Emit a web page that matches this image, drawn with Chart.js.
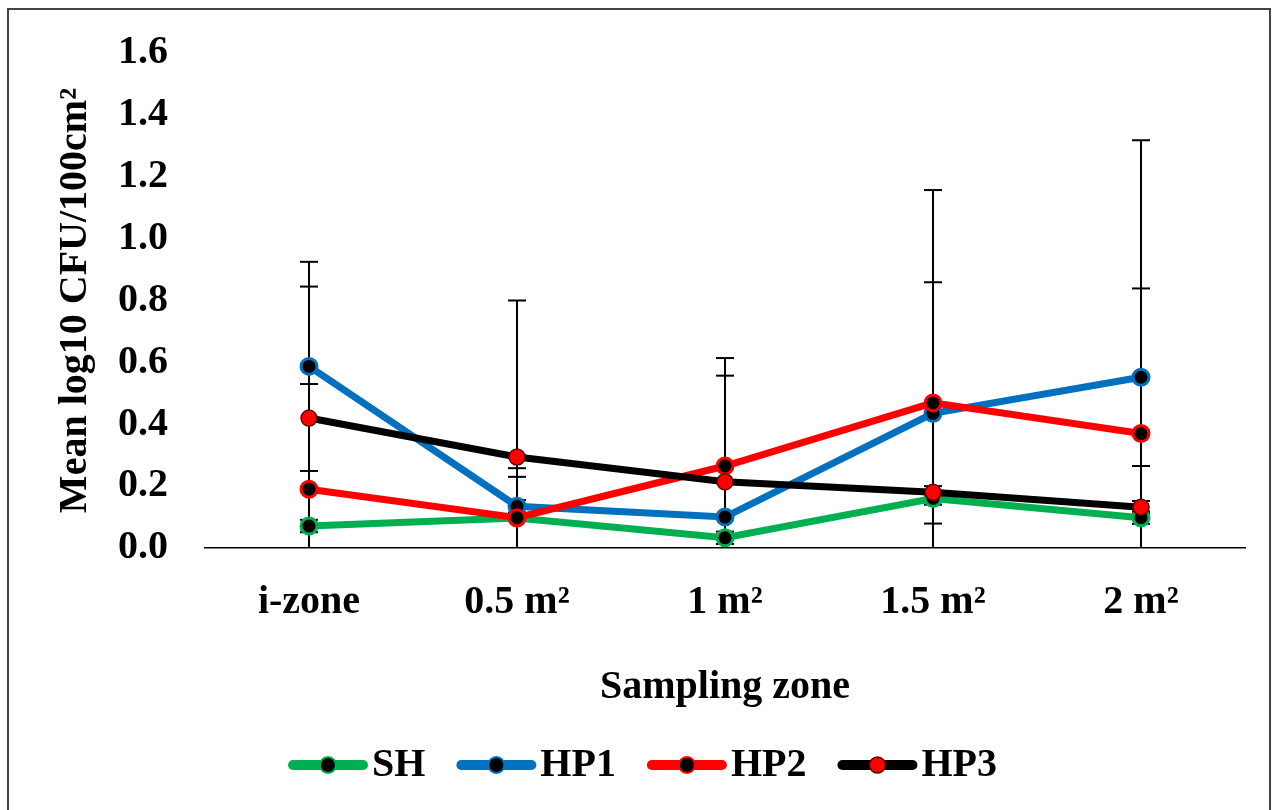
<!DOCTYPE html>
<html lang="en">
<head>
<meta charset="UTF-8">
<title>Sampling zone</title>
<script src="https://cdn.jsdelivr.net/npm/chart.js@4.4.1/dist/chart.umd.min.js"></script>
<style>
  html, body { margin: 0; padding: 0; background: #fff; overflow: hidden; }
  #wrap { width: 1277px; height: 810px; }
</style>
</head>
<body>
<div id="wrap"><canvas id="chart" width="1277" height="810"></canvas></div>
<script>
// categories on the x axis
var zones = ['i-zone', '0.5 m²', '1 m²', '1.5 m²', '2 m²'];

// mean values
var sh  = [0.071, 0.097, 0.033, 0.160, 0.098];
var hp1 = [0.587, 0.135, 0.100, 0.435, 0.552];
var hp2 = [0.190, 0.098, 0.265, 0.469, 0.370];
var hp3 = [0.420, 0.294, 0.214, 0.180, 0.132];

// error bar half lengths (+/-), estimated from the caps
var shErr  = [0.02, 0.133, 0.02, 0.02, 0.02];
var hp1Err = [0.338, 0.02, 0.11, 0.722, 0.287];
var hp2Err = [0.34, 0.16, 0.349, 0.39, 0.948];
var hp3Err = [0.425, 0.506, 0.343, 0.02, 0.02];

var yTicks = [0, 0.2, 0.4, 0.6, 0.8, 1.0, 1.2, 1.4, 1.6];

var FONT = "'Liberation Serif', 'Times New Roman', serif";

// error bars, drawn before the lines so the markers sit on top
var errorBars = {
    id: 'errorBars',
    beforeDatasetsDraw: function(chart) {
        var ctx = chart.ctx, y = chart.scales.y, x = chart.scales.x;
        var area = chart.chartArea;
        ctx.save();
        ctx.strokeStyle = '#000';
        ctx.lineWidth = 2;
        chart.data.datasets.forEach(function(ds) {
            ds.err.forEach(function(e, i) {
                var px = x.getPixelForValue(i);
                var hi = ds.data[i] + e, lo = ds.data[i] - e;
                var pHi = Math.max(y.getPixelForValue(hi), area.top);
                var pLo = Math.min(y.getPixelForValue(lo), area.bottom);
                ctx.beginPath(); ctx.moveTo(px, pHi); ctx.lineTo(px, pLo); ctx.stroke();
                var caps = [];
                if (hi <= y.max) caps.push(pHi);
                if (lo >= y.min) caps.push(pLo);
                caps.forEach(function(cy) {
                    ctx.beginPath(); ctx.moveTo(px - 9, cy); ctx.lineTo(px + 9, cy); ctx.stroke();
                });
            });
        });
        ctx.restore();
    }
};

// outer frame
var frame = {
    id: 'frame',
    beforeDraw: function(chart) {
        var ctx = chart.ctx;
        ctx.save();
        ctx.fillStyle = '#fff';
        ctx.fillRect(0, 0, chart.width, chart.height);
        ctx.strokeStyle = '#444';
        ctx.lineWidth = 2;
        ctx.strokeRect(8, 9, chart.width - 15, chart.height + 10);
        ctx.restore();
    }
};

// legend in the Excel style: a short line with the marker on it, then the name
var lineLegend = {
    id: 'lineLegend',
    afterDraw: function(chart) {
        var ctx = chart.ctx;
        var iconW = 80, gap = 4, spacing = 31, cy = 765;
        ctx.save();
        ctx.font = 'bold 40px ' + FONT;
        ctx.textBaseline = 'middle';
        var items = chart.data.datasets.map(function(ds) {
            return { ds: ds, w: ctx.measureText(ds.label).width };
        });
        var total = items.reduce(function(s, it) { return s + iconW + gap + it.w; }, 0) + spacing * (items.length - 1);
        var x = (chart.width - total) / 2 + 4;
        items.forEach(function(it) {
            var ds = it.ds;
            ctx.strokeStyle = ds.borderColor;
            ctx.lineWidth = 10;
            ctx.lineCap = 'round';
            ctx.beginPath(); ctx.moveTo(x + 5, cy); ctx.lineTo(x + iconW - 5, cy); ctx.stroke();
            ctx.beginPath();
            ctx.arc(x + iconW / 2, cy, 8, 0, Math.PI * 2);
            ctx.fillStyle = ds.pointBackgroundColor; ctx.fill();
            ctx.lineWidth = Math.min(ds.pointBorderWidth, 2);
            ctx.strokeStyle = ds.pointBorderColor; ctx.stroke();
            ctx.fillStyle = '#000';
            ctx.fillText(ds.label, x + iconW + gap, cy + 1);
            x += iconW + gap + it.w + spacing;
        });
        ctx.restore();
    }
};

function series(label, data, err, color, dotFill, dotBorder, dotBorderW, order) {
    return {
        label: label,
        data: data,
        err: err,
        order: order,
        borderColor: color,
        backgroundColor: color,
        borderWidth: 7,
        tension: 0,
        pointRadius: 8,
        pointHoverRadius: 8,
        pointBackgroundColor: dotFill,
        pointBorderColor: dotBorder,
        pointBorderWidth: dotBorderW,
        pointStyle: 'circle'
    };
}

var chart = new Chart(document.getElementById('chart').getContext('2d'), {
    type: 'line',
    data: {
        labels: zones,
        datasets: [
            series('SH',  sh,  shErr,  '#00b050', '#000', '#00b050', 3, 4),
            series('HP1', hp1, hp1Err, '#0070c0', '#000', '#0070c0', 3, 3),
            series('HP2', hp2, hp2Err, '#ff0000', '#000', '#ff0000', 3, 2),
            series('HP3', hp3, hp3Err, '#000000', '#ff0000', '#600', 1.5, 1)
        ]
    },
    options: {
        responsive: false,
        animation: false,
        layout: { padding: { left: 10, right: 32, top: 40, bottom: 90 } },
        plugins: {
            tooltip: { enabled: false },
            legend: { display: false }
        },
        scales: {
            x: {
                offset: true,
                grid: { display: false },
                border: { display: true, color: '#000', width: 1.5 },
                ticks: {
                    color: '#000',
                    padding: 23,
                    font: { family: FONT, size: 40, weight: 'bold' }
                },
                title: {
                    display: true,
                    text: 'Sampling zone',
                    color: '#000',
                    padding: { top: 14, bottom: 8 },
                    font: { family: FONT, size: 40, weight: 'bold' }
                }
            },
            y: {
                min: 0,
                max: 1.6,
                afterBuildTicks: function(scale) {
                    scale.ticks = yTicks.map(function(v) { return { value: v }; });
                },
                afterFit: function(scale) { scale.width = 195; },
                grid: { display: false },
                border: { display: false },
                ticks: {
                    color: '#000',
                    padding: 29,
                    font: { family: FONT, size: 40, weight: 'bold' },
                    callback: function(v) { return Number(v).toFixed(1); }
                },
                title: {
                    display: true,
                    text: 'Mean log10 CFU/100cm²',
                    color: '#000',
                    padding: { top: 42, bottom: 4 },
                    font: { family: FONT, size: 40, weight: 'bold' }
                }
            }
        }
    },
    plugins: [frame, errorBars, lineLegend]
});
</script>
</body>
</html>
